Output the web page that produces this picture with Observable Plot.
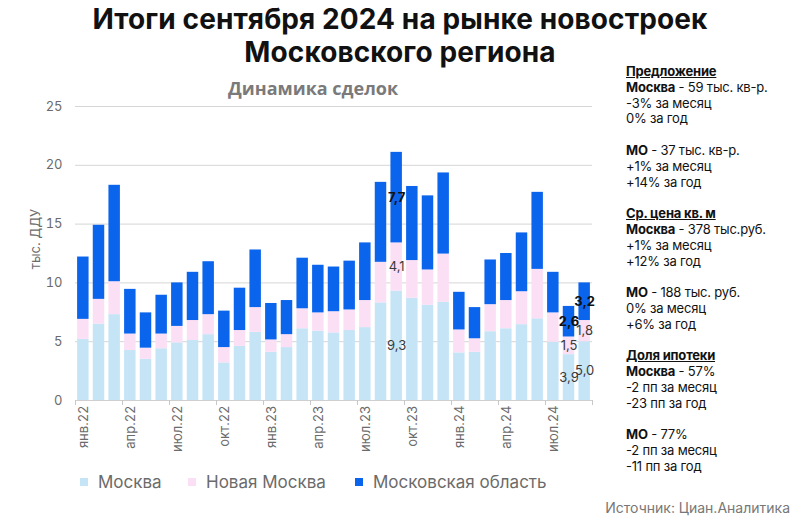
<!DOCTYPE html>
<html><head><meta charset="utf-8">
<script src="https://cdn.jsdelivr.net/npm/d3@7"></script>
<script src="https://cdn.jsdelivr.net/npm/@observablehq/plot@0.6"></script>
<style>
body{margin:0;background:#fff;}
#wrap{position:relative;width:800px;height:521px;overflow:hidden;font-family:Inter,sans-serif;color:#111;}
.title{position:absolute;left:0;width:800px;text-align:center;font-size:28px;font-weight:700;line-height:32px;height:32px;letter-spacing:0.1px;}
#sub{position:absolute;left:228px;top:76px;font-family:"Open Sans",sans-serif;font-weight:700;font-size:18px;color:#7a7a7a;}
#ylab{position:absolute;left:35px;top:239px;transform:translate(-50%,-50%) rotate(-90deg);font-size:13px;color:#6b6b6b;white-space:nowrap;}
#chart{position:absolute;left:0;top:80px;}
#legend{position:absolute;left:80px;top:472px;font-size:17px;color:#6b6b6b;}
#legend .it{position:absolute;white-space:nowrap;display:flex;align-items:center;}
#legend .sw{display:inline-block;width:8px;height:8px;margin-right:10px;}
#panel{position:absolute;left:626px;top:64px;font-size:13px;line-height:15.8px;letter-spacing:-0.2px;white-space:nowrap;}
#panel u{font-weight:700;}
#panel b{font-weight:700;}
#src{position:absolute;right:10px;top:499px;font-size:14px;color:#777;}
</style></head><body>
<div id="wrap">
 <div class="title" style="top:3px">Итоги сентября 2024 на рынке новостроек</div>
 <div class="title" style="top:36px">Московского региона</div>
 <div id="sub">Динамика сделок</div>
 <div id="ylab">тыс. ДДУ</div>
 <div id="chart"></div>
 <div id="legend"></div>
 <div id="panel">
  <u>Предложение</u><br>
  <b>Москва</b> - 59 тыс. кв-р.<br>
  -3% за месяц<br>
  0% за год<br><br>
  <b>МО</b> - 37 тыс. кв-р.<br>
  +1% за месяц<br>
  +14% за год<br><br>
  <u>Ср. цена кв. м</u><br>
  <b>Москва</b> - 378 тыс.руб.<br>
  +1% за месяц<br>
  +12% за год<br><br>
  <b>МО</b> - 188 тыс. руб.<br>
  0% за месяц<br>
  +6% за год<br><br>
  <u>Доля ипотеки</u><br>
  <b>Москва</b> - 57%<br>
  -2 пп за месяц<br>
  -23 пп за год<br><br>
  <b>МО</b> - 77%<br>
  -2 пп за месяц<br>
  -11 пп за год
 </div>
 <div id="src">Источник: Циан.Аналитика</div>
</div>
<script>
const months = ["янв.22","фев.22","мар.22","апр.22","май.22","июн.22","июл.22","авг.22","сен.22","окт.22","ноя.22","дек.22",
  "янв.23","фев.23","мар.23","апр.23","май.23","июн.23","июл.23","авг.23","сен.23","окт.23","ноя.23","дек.23",
  "янв.24","фев.24","мар.24","апр.24","май.24","июн.24","июл.24","авг.24","сен.24"];
const tickLabels = ["янв.22","апр.22","июл.22","окт.22","янв.23","апр.23","июл.23","окт.23","янв.24","апр.24","июл.24"];
const series = ["Москва","Новая Москва","Московская область"];
const colors = ["#c5e5f7","#fbdff4","#0a64ec"];
const moscow =    [5.2,6.5,7.3,4.25,3.5,4.4,4.9,5.1,5.6,3.2,4.6,5.8,4.1,4.5,6.1,5.9,5.75,5.95,6.2,8.3,9.3,8.7,8.1,8.35,4.05,4.1,5.85,6.1,6.45,6.95,4.95,3.9,5.0];
const newMoscow = [1.7,2.1,2.8,1.4,0.95,1.25,1.4,1.7,1.7,1.3,1.35,2.1,1.05,1.1,1.7,1.55,1.8,1.75,2.3,3.45,4.1,3.2,3.0,4.1,1.95,1.15,2.3,2.4,2.8,4.2,2.5,1.5,1.8];
const moRegion =  [5.3,6.3,8.2,3.8,3.0,3.3,3.7,4.1,4.5,3.1,3.6,4.9,3.1,2.9,4.3,4.05,3.8,4.15,4.9,6.8,7.7,6.3,6.3,6.9,3.2,2.65,3.8,4.0,5.0,6.55,3.45,2.6,3.2];
const labelledMonths = ["сен.23","авг.24","сен.24"];
const yTicks = [0,5,10,15,20,25];

const vals = [moscow, newMoscow, moRegion];
const rows = [];
months.forEach((m, i) => {
  let acc = 0;
  series.forEach((s, k) => {
    const v = vals[k][i];
    rows.push({month: m, i, series: s, k, value: v, y1: acc, y2: acc + v,
      label: labelledMonths.includes(m) ? v.toFixed(1).replace(".", ",") : null});
    acc += v;
  });
});
const labelRows = rows.filter(d => d.label);
const tickIdx = tickLabels.map(t => months.indexOf(t));

const chart = Plot.plot({
  width: 600, height: 385,
  marginLeft: 75, marginRight: 8, marginTop: 26, marginBottom: 65,
  x: {type: "linear", domain: [0, months.length]},
  y: {domain: [0, 25]},
  color: {domain: series, range: colors},
  style: {fontFamily: "Inter, sans-serif", background: "transparent"},
  marks: [
    Plot.gridY({ticks: yTicks.slice(1), stroke: "#d6d6d6", strokeOpacity: 1}),
    Plot.rectY(rows, {x1: "i", x2: d => d.i + 1, y1: "y1", y2: "y2", fill: "series", insetLeft: 2.1, insetRight: 2.1}),
    Plot.ruleY([0], {stroke: "#cfcfcf"}),
    Plot.axisY({ticks: yTicks, tickSize: 0, tickPadding: 13, fontSize: 13, color: "#6b6b6b", label: null}),
    Plot.axisX({ticks: d3.range(0, months.length + 1, 3), tickSize: 5, tickFormat: () => "", color: "#c8c8c8", label: null}),
    Plot.axisX({ticks: tickIdx.map(i => i + 0.5), tickSize: 0, tickPadding: 5, tickRotate: -90,
      tickFormat: d => months[Math.floor(d)], fontSize: 13, color: "#6b6b6b", label: null}),
    Plot.text(labelRows.filter(d => d.k !== 2), {x: d => d.i + 0.5, y: d => (d.y1 + d.y2) / 2, text: "label",
      fontSize: 13, fill: "#3a3a3a"}),
    Plot.text(labelRows.filter(d => d.k === 2), {x: d => d.i + 0.5, y: d => (d.y1 + d.y2) / 2, text: "label",
      fontSize: 13, fill: "#111", fontWeight: 700})
  ]
});
document.getElementById("chart").appendChild(chart);

const lg = document.getElementById("legend");
const lx = [0, 108, 275];
series.forEach((s, k) => {
  const it = document.createElement("div");
  it.className = "it";
  it.style.left = lx[k] + "px";
  it.innerHTML = `<span class="sw" style="background:${colors[k]}"></span>${s}`;
  lg.appendChild(it);
});
</script>
</body></html>
